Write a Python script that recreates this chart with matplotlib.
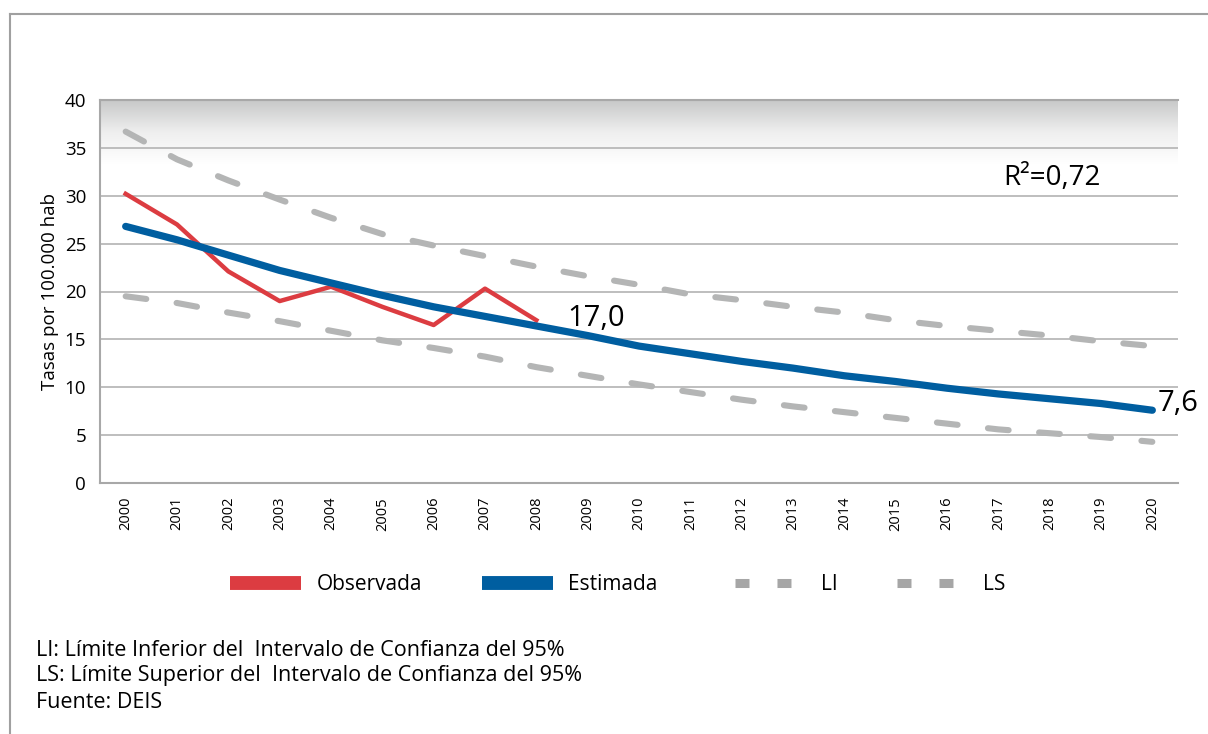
import numpy as np
import matplotlib.pyplot as plt
from matplotlib.lines import Line2D
from matplotlib.colors import LinearSegmentedColormap

plt.rcParams['font.family'] = ['Open Sans', 'DejaVu Sans']

years = [str(y) for y in range(2000, 2021)]
observada = [30.2, 27.0, 22.1, 19.0, 20.5, 18.4, 16.5, 20.3, 17.0]
estimada = [26.8, 25.4, 23.8, 22.2, 20.9, 19.6, 18.4, 17.4, 16.4, 15.4, 14.3,
             13.5, 12.7, 12.0, 11.2, 10.6, 9.9, 9.3, 8.8, 8.3, 7.6]
li = [19.5, 18.8, 17.8, 16.9, 15.9, 14.9, 14.1, 13.2, 12.1, 11.2, 10.3,
      9.5, 8.7, 8.0, 7.4, 6.8, 6.2, 5.6, 5.2, 4.8, 4.3]
ls = [36.7, 33.8, 31.6, 29.6, 27.7, 26.0, 24.8, 23.7, 22.6, 21.6, 20.7,
      19.7, 19.1, 18.4, 17.8, 17.0, 16.4, 15.9, 15.4, 14.8, 14.3]

red = "#dc3c41"
blue = "#005ea0"
gray = "#b4b5b5"

fig = plt.figure(figsize=(12.08, 7.34), dpi=100)
ax = fig.add_axes([100 / 1208, 1 - 483 / 734, 1078 / 1208, 383 / 734])

x = np.arange(len(years))

# gradient band at the top of the plot area
cmap = LinearSegmentedColormap.from_list("band", ["#ffffff", "#eeeeee", "#c6c7c7"])
grad = np.linspace(0, 1, 256).reshape(-1, 1)
ax.imshow(grad, extent=[-0.5, 20.5, 33.3, 40], origin="lower", cmap=cmap,
          aspect="auto", zorder=0)

ax.plot(x, ls, color=gray, lw=4.4, dashes=(3.4, 5.0), dash_capstyle="round", zorder=2)
ax.plot(x, li, color=gray, lw=4.4, dashes=(3.4, 5.0), dash_capstyle="round", zorder=2)
ax.plot(x[:len(observada)], observada, color=red, lw=3.2, zorder=3)
ax.plot(x, estimada, color=blue, lw=5.2, solid_capstyle="round", zorder=4)

ax.text(8.6, 17.2, "17,0", fontsize=21, va="center", ha="left")
ax.text(20.1, 8.3, "7,6", fontsize=21, va="center", ha="left")
ax.text(17.1, 31.9, "R²=0,72", fontsize=20, va="center", ha="left")

ax.set_xlim(-0.5, 20.5)
ax.set_ylim(0, 40)
ax.set_yticks(range(0, 41, 5))
ax.set_xticks(x)
ax.set_xticklabels(years, rotation=90, fontsize=10.5)
ax.tick_params(axis="y", length=0, labelsize=13.5, pad=10)
ax.tick_params(axis="x", length=0, pad=10)
ax.grid(axis="y", color="#b9b9b9", lw=1.3)
ax.set_axisbelow(True)
for s in ["left", "bottom", "top"]:
    ax.spines[s].set_color("#a8a8a8")
    ax.spines[s].set_linewidth(1.5)
ax.spines["right"].set_visible(False)
ax.set_ylabel("Tasas por 100.000 hab", fontsize=13.5, labelpad=4)

# legend entries placed one by one, like the original
entries = [
    (Line2D([], [], color=red, lw=10, solid_capstyle="butt"), "Observada", 230),
    (Line2D([], [], color=blue, lw=10, solid_capstyle="butt"), "Estimada", 482),
    (Line2D([], [], color="#a6a6a6", lw=6.5, dashes=(1.55, 3.1)), "LI", 735),
    (Line2D([], [], color="#a6a6a6", lw=6.5, dashes=(1.55, 3.1)), "LS", 897),
]
for h, lab, xl in entries:
    fig.legend([h], [lab], loc="center left", bbox_to_anchor=(xl / 1208, 1 - 585 / 734),
               frameon=False, fontsize=15, handlelength=3.4, handletextpad=0.75,
               borderpad=0, borderaxespad=0)

notes = ["LI: Límite Inferior del  Intervalo de Confianza del 95%",
         "LS: Límite Superior del  Intervalo de Confianza del 95%",
         "Fuente: DEIS"]
for i, t in enumerate(notes):
    fig.text(36 / 1208, 1 - (650 + i * 26) / 734, t, fontsize=15.5, va="center")

# outer frame
fig.add_artist(Line2D([10 / 1208, 10 / 1208], [0, 1 - 14 / 734], color="#a0a0a0", lw=1.5))
fig.add_artist(Line2D([10 / 1208, 1], [1 - 14 / 734, 1 - 14 / 734], color="#a0a0a0", lw=1.5))

fig.savefig("out.png", dpi=100)
